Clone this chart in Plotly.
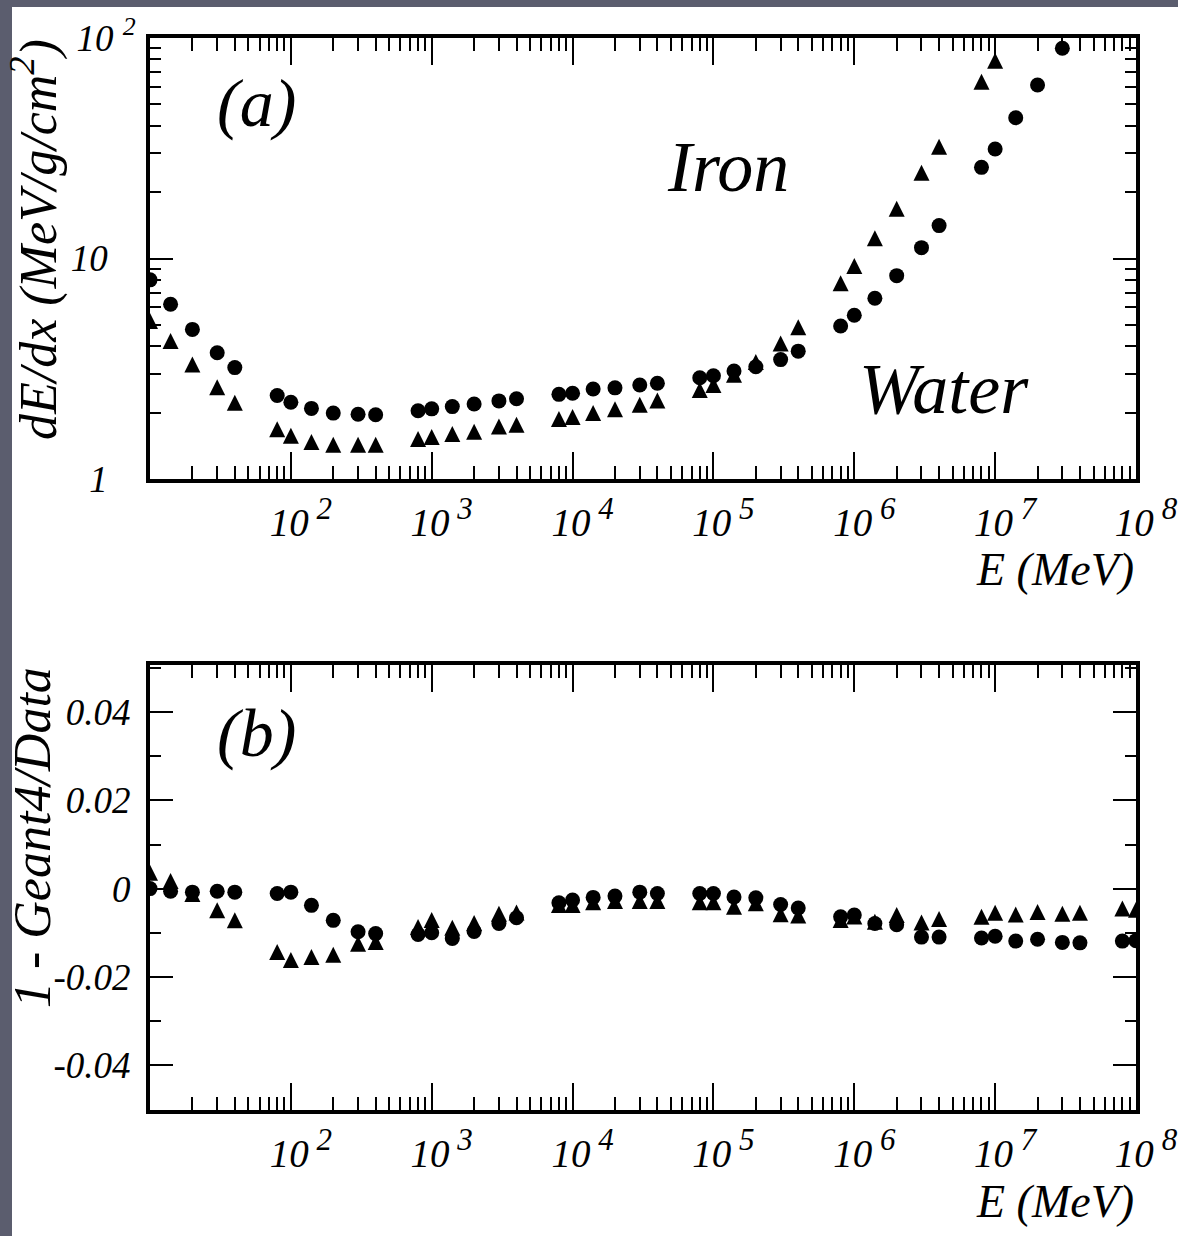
import plotly.graph_objects as go

# ---------------- data ----------------
energy_mev = [10, 14, 20, 30, 40, 80, 100, 140, 200, 300, 400,
              800, 1e3, 1.4e3, 2e3, 3e3, 4e3, 8e3, 1e4, 1.4e4, 2e4, 3e4, 4e4,
              8e4, 1e5, 1.4e5, 2e5, 3e5, 4e5, 8e5, 1e6, 1.4e6, 2e6, 3e6, 4e6,
              8e6, 1e7, 1.4e7, 2e7, 3e7, 4e7, 8e7, 1e8]

# (a) stopping power dE/dx (MeV/g/cm^2)
water_dedx = [8.0, 6.2, 4.77, 3.74, 3.2, 2.39, 2.23, 2.09, 1.99, 1.965, 1.957,
              2.04, 2.08, 2.13, 2.19, 2.26, 2.31, 2.42, 2.45, 2.56, 2.59, 2.67, 2.72,
              2.88, 2.94, 3.09, 3.23, 3.48, 3.8, 4.94, 5.53, 6.60, 8.36, 11.2, 14.1,
              25.9, 31.4, 43.5, 61.2, 89.8]
iron_dedx = [5.2, 4.22, 3.31, 2.61, 2.22, 1.68, 1.57, 1.47, 1.43, 1.43, 1.43,
             1.52, 1.55, 1.60, 1.64, 1.73, 1.76, 1.87, 1.91, 1.99, 2.07, 2.17, 2.27,
             2.53, 2.67, 2.97, 3.39, 4.12, 4.88, 7.72, 9.25, 12.35, 16.8, 24.5, 32.1,
             63.4, 78.9]

# (b) 1 - Geant4/Data
water_ratio = [0.0, -0.0006, -0.0008, -0.0006, -0.0008, -0.0011, -0.0008, -0.0038, -0.0072, -0.0098, -0.0102,
               -0.0104, -0.0100, -0.0113, -0.0097, -0.0079, -0.0066, -0.0032, -0.0026, -0.0020, -0.0017, -0.0008, -0.0011,
               -0.0011, -0.0011, -0.0019, -0.0021, -0.0036, -0.0044, -0.0064, -0.0060, -0.0079, -0.0082, -0.0110, -0.0110,
               -0.0112, -0.0108, -0.0119, -0.0115, -0.0122, -0.0123, -0.0119, -0.0118]
iron_ratio = [0.0036, 0.0017, -0.0012, -0.0049, -0.0072, -0.0144, -0.0162, -0.0155, -0.0150, -0.0125, -0.0121,
              -0.0087, -0.0071, -0.0089, -0.0078, -0.0057, -0.0054, -0.0037, -0.0037, -0.0031, -0.0028, -0.0028, -0.0028,
              -0.0031, -0.0031, -0.0041, -0.0033, -0.0058, -0.0061, -0.0071, -0.0063, -0.0075, -0.0060, -0.0077, -0.0069,
              -0.0064, -0.0055, -0.0059, -0.0053, -0.0057, -0.0055, -0.0045, -0.0048]

# tick labels
x_tickvals = [1e2, 1e3, 1e4, 1e5, 1e6, 1e7, 1e8]
x_exponents = ["2", "3", "4", "5", "6", "7", "8"]
x_ticktext = ["10\u2009<sup><span style='font-size:31px'>%s</span></sup>" % e for e in x_exponents]
ya_tickvals = [1, 10, 100]
ya_ticktext = ["1\u00a0\u00a0\u00a0", "10\u00a0\u00a0\u00a0", "10\u00a0<sup>2</sup>"]
yb_tickvals = [0.04, 0.02, 0, -0.02, -0.04]
yb_ticktext = ["0.04", "0.02", "0", "-0.02", "-0.04"]

# ---------------- layout geometry ----------------
W, H = 1178, 1236
L, R, T, B = 150, 42, 38, 126
PW, PH = W - L - R, H - T - B


def px_x(px):
    return (px - L) / PW


def px_y(py):
    return (H - B - py) / PH


FONT = "Liberation Serif"
BLACK = "black"

x_minor = [k * 10 ** n for n in range(1, 8) for k in range(2, 10)]
ya_minor = [k * 10 ** n for n in range(0, 2) for k in range(2, 10)]

fig = go.Figure()

# panel (a)
fig.add_trace(go.Scatter(x=energy_mev[:len(iron_dedx)], y=iron_dedx, mode="markers",
                         marker=dict(symbol="arrow-down", angle=180, standoff=8, size=16, color=BLACK,
                                     line=dict(width=0)),
                         xaxis="x", yaxis="y", name="Iron", showlegend=False))
fig.add_trace(go.Scatter(x=energy_mev[:len(water_dedx)], y=water_dedx, mode="markers",
                         marker=dict(symbol="circle", size=15, color=BLACK, line=dict(width=0)),
                         xaxis="x", yaxis="y", name="Water", showlegend=False))
# panel (b)
fig.add_trace(go.Scatter(x=energy_mev, y=iron_ratio, mode="markers",
                         marker=dict(symbol="arrow-down", angle=180, standoff=8, size=16, color=BLACK,
                                     line=dict(width=0)),
                         xaxis="x2", yaxis="y2", name="Iron", showlegend=False))
fig.add_trace(go.Scatter(x=energy_mev, y=water_ratio, mode="markers",
                         marker=dict(symbol="circle", size=15, color=BLACK, line=dict(width=0)),
                         xaxis="x2", yaxis="y2", name="Water", showlegend=False))

common_axis = dict(showline=True, linewidth=4, linecolor=BLACK, mirror="ticks", showgrid=False,
                   zeroline=False, ticks="inside", tickwidth=2, tickcolor=BLACK, automargin=False)

xaxis_common = dict(type="log", range=[1, 8], tickmode="array", tickvals=x_tickvals, ticktext=x_ticktext,
                    ticklen=27, tickfont=dict(family=FONT, size=39, color=BLACK, style="italic"),
                    ticklabelstandoff=6, ticklabelshift=10,
                    minor=dict(tickmode="array", tickvals=x_minor, ticks="inside", ticklen=13,
                               tickwidth=2, tickcolor=BLACK, showgrid=False),
                    **common_axis)

fig.update_layout(
    width=W, height=H,
    margin=dict(l=L, r=R, t=T, b=B, pad=0, autoexpand=False),
    paper_bgcolor="white", plot_bgcolor="white",
    showlegend=False,
    xaxis=dict(domain=[0, 1], anchor="y", **xaxis_common),
    yaxis=dict(domain=[px_y(479), 1], anchor="x", type="log", range=[0, 2], tickmode="array",
               tickvals=ya_tickvals, ticktext=ya_ticktext, ticklen=23,
               tickfont=dict(family=FONT, size=37, color=BLACK, style="italic"),
               ticklabelstandoff=3,
               minor=dict(tickmode="array", tickvals=ya_minor, ticks="inside", ticklen=11,
                          tickwidth=2, tickcolor=BLACK, showgrid=False),
               **common_axis),
    xaxis2=dict(domain=[0, 1], anchor="y2", **xaxis_common),
    yaxis2=dict(domain=[0, px_y(665)], anchor="x2", range=[-0.0502, 0.0507], tickmode="array",
                tickvals=yb_tickvals, ticktext=yb_ticktext, ticklen=23,
                tickfont=dict(family=FONT, size=37, color=BLACK, style="italic"),
                ticklabelstandoff=8,
                minor=dict(dtick=0.01, tick0=0, ticks="inside", ticklen=11, tickwidth=2,
                           tickcolor=BLACK, showgrid=False),
                **common_axis),
)

# gray slide border (left and top strips)
GRAY = "#5b5d6e"
fig.add_shape(type="rect", xref="paper", yref="paper", x0=px_x(-10), x1=px_x(12), y0=px_y(H + 10), y1=px_y(-10),
              fillcolor=GRAY, line=dict(width=0), layer="above")
fig.add_shape(type="rect", xref="paper", yref="paper", x0=px_x(-10), x1=px_x(W + 10), y0=px_y(7), y1=px_y(-10),
              fillcolor=GRAY, line=dict(width=0), layer="above")


def ann(text, px, py, size, xanchor="center", angle=0):
    fig.add_annotation(text=text, xref="paper", yref="paper", x=px_x(px), y=px_y(py),
                       xanchor=xanchor, yanchor="middle", showarrow=False, textangle=angle,
                       font=dict(family=FONT, size=size, color=BLACK, style="italic"))


ann("(a)", 256, 103, 68)
ann("(b)", 256, 733, 68)
ann("Iron", 728, 167, 72)
ann("Water", 944, 389, 72)
ann("E (MeV)", 1136, 569, 46, xanchor="right")
ann("E (MeV)", 1136, 1201, 46, xanchor="right")
ann("dE/dx (MeV/g/cm<sup>2</sup>)", 35, 240, 52, angle=-90)
ann("1 - Geant4/Data", 33, 838, 52, angle=-90)

fig.write_html("out.html", config={"displayModeBar": False},
               post_script="document.body.style.margin='0';document.body.style.overflow='hidden';")
